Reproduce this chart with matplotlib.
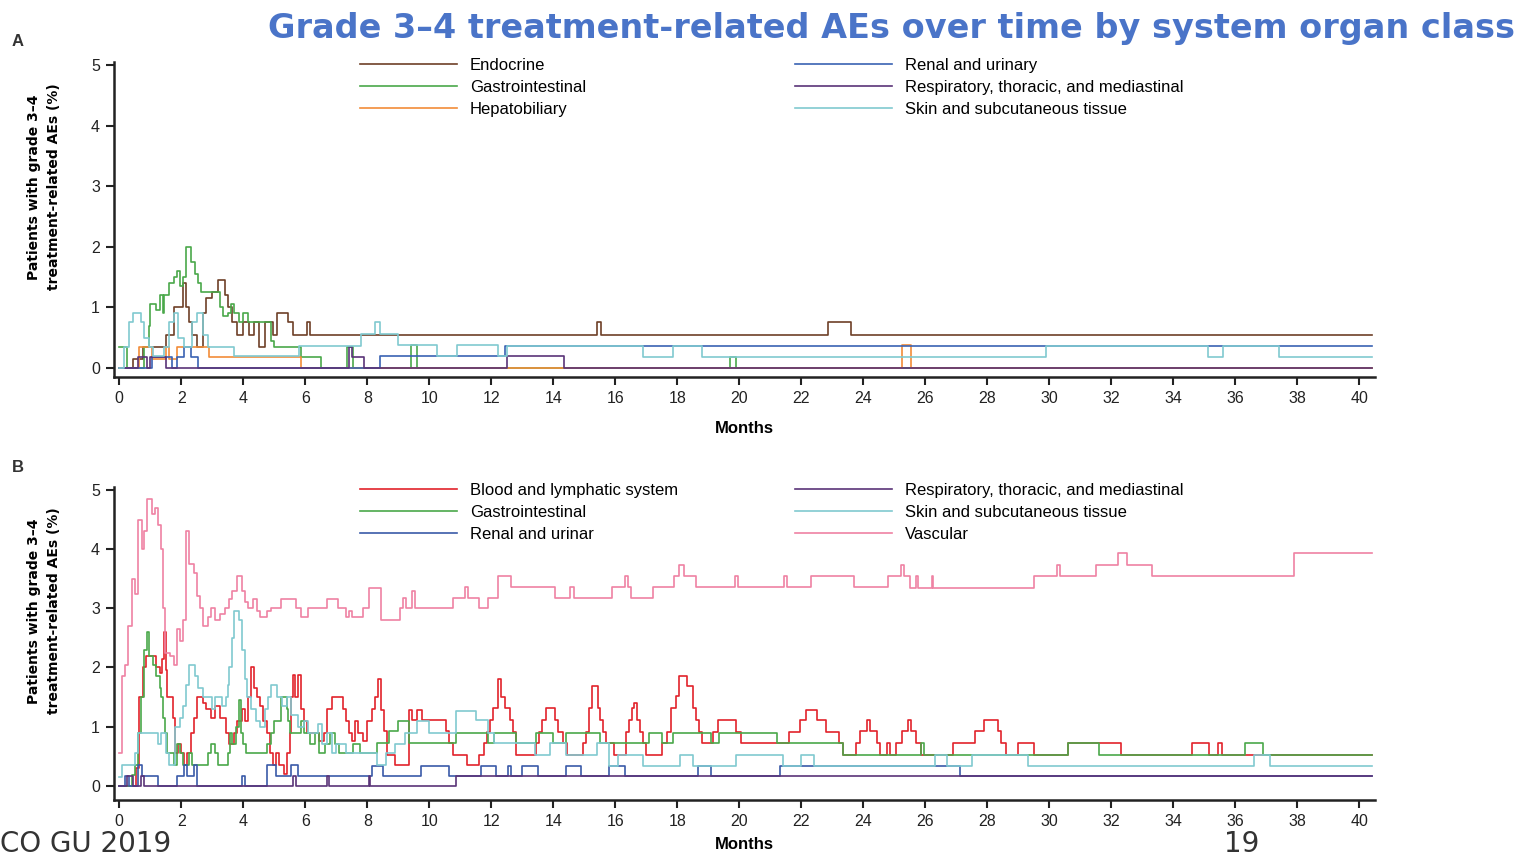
import matplotlib.pyplot as plt

plt.rcParams['font.family'] = ['Liberation Sans', 'DejaVu Sans']

# step data, (month, % of patients)
# panel A
endocrine = [(0, 0), (0.45, 0.15), (0.75, 0.35), (1.5, 0.55), (1.75, 1.0), (2.05, 1.4), (2.15, 1.0),
             (2.25, 0.75), (2.35, 0.55), (2.5, 0.35), (2.7, 0.9), (2.8, 1.15), (3.0, 1.25), (3.2, 1.45),
             (3.4, 1.2), (3.5, 1.0), (3.65, 0.75), (3.8, 0.55), (4.0, 0.75), (4.2, 0.55), (4.35, 0.75),
             (4.5, 0.35), (4.7, 0.75), (4.95, 0.55), (5.1, 0.9), (5.45, 0.75), (5.6, 0.55), (6.05, 0.75),
             (6.15, 0.55), (15.4, 0.75), (15.55, 0.55), (22.85, 0.75), (23.6, 0.55), (40.4, 0.55)]
gastro_a = [(0, 0.35), (0.25, 0), (0.8, 0.35), (0.95, 0.7), (1.0, 1.05), (1.2, 0.95), (1.3, 1.2), (1.4, 0.9),
            (1.45, 1.2), (1.6, 1.4), (1.75, 1.5), (1.85, 1.6), (1.95, 1.35), (2.05, 1.5), (2.15, 2.0),
            (2.3, 1.75), (2.45, 1.55), (2.55, 1.4), (2.65, 1.25), (3.25, 1.0), (3.35, 0.85), (3.5, 0.9),
            (3.6, 1.05), (3.7, 0.9), (3.85, 0.75), (4.0, 0.9), (4.15, 0.75), (4.9, 0.45), (5.0, 0.35),
            (5.85, 0.18), (6.5, 0), (7.35, 0.35), (7.55, 0), (9.4, 0.38), (9.6, 0), (19.7, 0.18),
            (19.9, 0), (40.4, 0)]
hepato = [(0, 0), (0.65, 0.35), (1.05, 0.15), (1.5, 0.35), (1.6, 0.15), (1.85, 0.35), (2.9, 0.18),
          (5.85, 0), (25.25, 0.38), (25.55, 0), (40.4, 0)]
renal_a = [(0, 0), (1.05, 0.18), (1.7, 0), (1.85, 0.18), (2.1, 0.35), (2.3, 0.18), (2.55, 0),
           (8.4, 0.19), (12.45, 0.37), (40.4, 0.37)]
resp_a = [(0, 0), (0.6, 0.18), (0.9, 0), (1.0, 0.18), (1.5, 0), (7.4, 0.35), (7.5, 0.18), (7.9, 0),
          (12.5, 0.19), (14.35, 0), (40.4, 0)]
skin_a = [(0, 0), (0.15, 0.35), (0.3, 0.75), (0.45, 0.9), (0.7, 0.75), (0.8, 0.5), (0.95, 0.35),
          (1.1, 0.2), (1.45, 0.35), (1.6, 0.75), (1.75, 0.9), (1.9, 0.5), (2.1, 0.35), (2.35, 0.75),
          (2.5, 0.9), (2.7, 0.55), (2.85, 0.35), (3.7, 0.2), (5.8, 0.36), (7.8, 0.56), (8.25, 0.75),
          (8.4, 0.56), (9.0, 0.38), (10.24, 0.19), (10.9, 0.38), (12.2, 0.19), (12.5, 0.37), (16.9, 0.18),
          (17.85, 0.37), (18.8, 0.18), (29.9, 0.37), (35.1, 0.18), (35.6, 0.37), (37.4, 0.18), (40.4, 0.18)]

# panel B
blood = [(0, 0), (0.55, 0.3), (0.65, 1.5), (0.75, 2.0), (0.85, 2.2), (1.2, 2.0), (1.3, 1.9), (1.38, 2.15),
         (1.43, 2.6), (1.5, 1.95), (1.55, 1.5), (1.72, 1.15), (1.8, 0.55), (1.9, 0.7), (2.0, 0.55),
         (2.1, 0.35), (2.2, 0.55), (2.3, 0.9), (2.4, 1.15), (2.5, 1.5), (2.7, 1.4), (2.8, 1.3), (2.95, 1.15),
         (3.1, 1.35), (3.25, 1.15), (3.45, 0.9), (3.55, 0.7), (3.7, 0.9), (3.8, 1.1), (3.95, 1.3),
         (4.05, 1.1), (4.15, 1.5), (4.25, 2.0), (4.35, 1.65), (4.45, 1.5), (4.55, 1.35), (4.65, 1.1),
         (4.75, 0.9), (4.85, 0.55), (4.95, 0.35), (5.05, 0.55), (5.15, 0.35), (5.3, 0.2), (5.4, 0.55),
         (5.5, 0.9), (5.55, 1.5), (5.6, 1.88), (5.68, 1.5), (5.75, 1.88), (5.85, 1.3), (5.95, 1.1),
         (6.05, 0.9), (6.45, 0.75), (6.6, 0.9), (6.7, 1.3), (6.85, 1.5), (7.2, 1.3), (7.3, 1.1), (7.4, 0.9),
         (7.5, 0.75), (7.6, 1.1), (7.7, 0.9), (7.85, 0.75), (8.0, 1.1), (8.15, 1.3), (8.25, 1.5),
         (8.35, 1.8), (8.45, 1.28), (8.55, 0.92), (8.65, 0.52), (8.9, 0.35), (9.35, 1.28), (9.45, 1.11),
         (9.6, 1.28), (9.75, 1.11), (10.55, 0.92), (10.65, 0.72), (10.75, 0.52), (11.2, 0.35), (11.6, 0.52),
         (11.75, 0.72), (11.85, 0.91), (11.95, 1.11), (12.05, 1.31), (12.2, 1.8), (12.3, 1.5), (12.45, 1.31),
         (12.6, 1.11), (12.7, 0.91), (12.8, 0.52), (13.45, 0.72), (13.55, 0.91), (13.65, 1.11),
         (13.75, 1.31), (14.05, 1.11), (14.15, 0.91), (14.3, 0.72), (14.45, 0.52), (14.95, 0.72),
         (15.05, 0.91), (15.15, 1.31), (15.25, 1.68), (15.45, 1.31), (15.5, 1.11), (15.6, 0.91),
         (15.7, 0.72), (15.95, 0.52), (16.35, 0.91), (16.45, 1.11), (16.55, 1.31), (16.6, 1.4),
         (16.7, 1.11), (16.8, 0.91), (16.9, 0.72), (17.0, 0.52), (17.5, 0.72), (17.65, 0.91), (17.8, 1.31),
         (17.95, 1.51), (18.05, 1.85), (18.3, 1.68), (18.5, 1.31), (18.6, 1.11), (18.7, 0.91), (18.8, 0.72),
         (19.15, 0.91), (19.3, 1.11), (19.9, 0.91), (20.05, 0.72), (21.6, 0.91), (21.95, 1.11),
         (22.15, 1.28), (22.5, 1.11), (22.8, 0.91), (23.2, 0.72), (23.35, 0.52), (23.75, 0.72),
         (23.9, 0.92), (24.1, 1.11), (24.2, 0.92), (24.45, 0.72), (24.55, 0.52), (24.75, 0.72),
         (24.85, 0.52), (25.05, 0.72), (25.25, 0.92), (25.45, 1.11), (25.55, 0.92), (25.7, 0.72),
         (25.85, 0.52), (26.9, 0.72), (27.6, 0.92), (27.9, 1.11), (28.35, 0.92), (28.45, 0.72),
         (28.6, 0.52), (29.0, 0.72), (29.5, 0.52), (30.6, 0.72), (32.3, 0.52), (34.6, 0.72), (35.15, 0.52),
         (35.45, 0.72), (35.55, 0.52), (40.4, 0.52)]
gastro_b = [(0, 0), (0.4, 0.18), (0.5, 0.35), (0.6, 0.9), (0.7, 1.5), (0.8, 2.3), (0.88, 2.6), (0.95, 2.2),
            (1.1, 2.05), (1.2, 1.85), (1.3, 1.65), (1.35, 1.5), (1.42, 1.15), (1.48, 0.9), (1.55, 0.55),
            (1.75, 0.35), (1.85, 0.7), (1.95, 0.55), (2.05, 0.35), (2.25, 0.55), (2.35, 0.35), (2.85, 0.55),
            (2.95, 0.7), (3.1, 0.55), (3.2, 0.35), (3.5, 0.55), (3.58, 0.9), (3.65, 0.7), (3.75, 1.0),
            (3.85, 1.45), (3.92, 0.9), (4.0, 0.7), (4.1, 0.55), (4.75, 0.7), (4.9, 0.9), (5.0, 1.1),
            (5.2, 1.5), (5.4, 1.3), (5.45, 1.1), (5.5, 0.9), (5.85, 1.1), (5.95, 0.9), (6.15, 0.7),
            (6.3, 0.9), (6.45, 0.55), (6.65, 0.7), (6.8, 0.9), (6.95, 0.7), (7.1, 0.55), (7.55, 0.7),
            (7.75, 0.55), (8.3, 0.72), (8.7, 0.92), (9.0, 1.1), (9.35, 0.72), (10.5, 0.72), (10.85, 0.9),
            (11.9, 0.72), (12.1, 0.9), (12.8, 0.72), (13.45, 0.9), (14.0, 0.72), (14.4, 0.9), (15.5, 0.72),
            (17.1, 0.9), (17.5, 0.72), (17.85, 0.9), (19.1, 0.72), (19.35, 0.9), (21.2, 0.72), (23.35, 0.52),
            (25.85, 0.72), (25.95, 0.52), (30.6, 0.72), (31.6, 0.52), (36.3, 0.72), (36.9, 0.52), (40.4, 0.52)]
renal_b = [(0, 0), (0.2, 0.16), (0.3, 0), (0.6, 0.35), (0.72, 0.16), (1.25, 0), (1.85, 0.16), (2.1, 0.35),
           (2.2, 0.16), (2.4, 0.35), (2.5, 0), (3.95, 0.16), (4.05, 0), (4.75, 0.35), (5.05, 0.16),
           (5.55, 0.35), (5.75, 0.16), (8.15, 0.33), (8.5, 0.16), (9.73, 0.33), (10.65, 0.16), (11.67, 0.33),
           (12.15, 0.16), (12.55, 0.33), (12.65, 0.16), (13.0, 0.33), (13.5, 0.16), (14.4, 0.33),
           (14.9, 0.16), (15.8, 0.33), (16.3, 0.16), (18.65, 0.33), (19.1, 0.16), (21.3, 0.33),
           (27.1, 0.16), (40.4, 0.16)]
resp_b = [(0, 0), (0.25, 0.16), (0.45, 0), (0.7, 0.16), (0.8, 0), (5.6, 0.16), (5.7, 0), (6.7, 0.16),
          (6.75, 0), (8.05, 0.16), (8.1, 0), (10.86, 0.16), (40.4, 0.16)]
skin_b = [(0, 0.15), (0.1, 0.35), (0.5, 0.55), (0.6, 0.9), (1.25, 0.7), (1.35, 0.9), (1.5, 0.55),
          (1.6, 0.35), (1.8, 1.0), (1.95, 1.15), (2.05, 1.35), (2.15, 1.7), (2.25, 2.05), (2.45, 1.85),
          (2.55, 1.65), (2.7, 1.5), (3.0, 1.3), (3.1, 1.5), (3.3, 1.35), (3.45, 1.5), (3.5, 1.7),
          (3.55, 2.0), (3.62, 2.5), (3.7, 2.95), (3.85, 2.8), (3.95, 2.3), (4.05, 1.8), (4.12, 1.5),
          (4.25, 1.3), (4.4, 1.1), (4.55, 1.0), (4.7, 1.3), (4.8, 1.5), (4.9, 1.7), (5.1, 1.5),
          (5.25, 1.35), (5.4, 1.5), (5.55, 1.2), (5.75, 1.0), (5.95, 1.1), (6.1, 0.9), (6.4, 1.05),
          (6.55, 0.7), (6.7, 0.9), (6.85, 0.55), (7.0, 0.7), (7.3, 0.55), (8.3, 0.35), (8.6, 0.55),
          (8.9, 0.7), (9.2, 0.9), (9.6, 1.1), (10.0, 0.9), (10.85, 1.27), (11.5, 1.11), (11.9, 0.9),
          (12.1, 0.72), (13.4, 0.52), (13.9, 0.72), (14.4, 0.52), (15.4, 0.72), (15.8, 0.33), (16.1, 0.52),
          (16.9, 0.33), (18.1, 0.52), (18.5, 0.33), (19.9, 0.52), (21.4, 0.33), (22.0, 0.52), (22.4, 0.33),
          (26.3, 0.52), (26.7, 0.33), (27.5, 0.52), (29.3, 0.33), (36.6, 0.52), (37.1, 0.33), (40.4, 0.33)]
vascular = [(0, 0.55), (0.08, 1.85), (0.2, 2.05), (0.28, 2.7), (0.4, 3.5), (0.5, 3.25), (0.6, 4.5),
            (0.72, 4.0), (0.8, 4.3), (0.9, 4.85), (1.05, 4.6), (1.15, 4.7), (1.25, 4.4), (1.35, 4.0),
            (1.42, 3.0), (1.48, 2.25), (1.65, 2.2), (1.75, 2.05), (1.85, 2.65), (1.95, 2.45), (2.05, 2.8),
            (2.15, 4.3), (2.25, 3.75), (2.4, 3.6), (2.5, 3.2), (2.6, 3.0), (2.7, 2.7), (2.85, 2.85),
            (2.95, 3.0), (3.1, 2.8), (3.25, 2.9), (3.4, 3.0), (3.55, 3.15), (3.65, 3.3), (3.8, 3.55),
            (3.95, 3.3), (4.05, 3.1), (4.15, 3.0), (4.3, 3.15), (4.45, 2.95), (4.55, 2.85), (4.75, 2.95),
            (4.9, 3.0), (5.2, 3.15), (5.7, 3.0), (5.85, 2.85), (6.1, 3.0), (6.7, 3.15), (7.05, 3.0),
            (7.3, 2.85), (7.4, 2.95), (7.5, 2.85), (7.85, 3.0), (8.05, 3.35), (8.45, 2.8), (9.05, 3.0),
            (9.15, 3.17), (9.25, 3.0), (9.45, 3.3), (9.55, 3.0), (10.75, 3.17), (11.15, 3.36), (11.25, 3.17),
            (11.6, 3.0), (11.9, 3.17), (12.2, 3.55), (12.65, 3.36), (14.05, 3.17), (14.55, 3.36),
            (14.65, 3.17), (15.9, 3.36), (16.3, 3.55), (16.4, 3.36), (16.5, 3.17), (17.2, 3.36), (17.9, 3.55),
            (18.05, 3.73), (18.2, 3.55), (18.6, 3.36), (19.85, 3.55), (19.95, 3.36), (21.45, 3.55),
            (21.55, 3.36), (22.3, 3.55), (23.7, 3.36), (24.8, 3.54), (25.2, 3.74), (25.3, 3.54), (25.5, 3.34),
            (25.7, 3.54), (25.75, 3.34), (26.2, 3.54), (26.25, 3.34), (29.5, 3.54), (30.25, 3.74),
            (30.35, 3.54), (31.5, 3.74), (32.2, 3.93), (32.5, 3.74), (33.3, 3.54), (37.9, 3.93), (40.4, 3.93)]

series_a = [('Endocrine', endocrine, '#6e4027'), ('Gastrointestinal', gastro_a, '#4aa84a'),
            ('Hepatobiliary', hepato, '#f28c38'), ('Renal and urinary', renal_a, '#3a62b3'),
            ('Respiratory, thoracic, and mediastinal', resp_a, '#5a3478'),
            ('Skin and subcutaneous tissue', skin_a, '#80c9d0')]
series_b = [('Blood and lymphatic system', blood, '#e2232b'), ('Gastrointestinal', gastro_b, '#4aa84a'),
            ('Renal and urinar', renal_b, '#3a5aa8'),
            ('Respiratory, thoracic, and mediastinal', resp_b, '#5a3478'),
            ('Skin and subcutaneous tissue', skin_b, '#80c9d0'), ('Vascular', vascular, '#ef82a3')]

W, H = 1535, 856
fig = plt.figure(figsize=(W / 100, H / 100), dpi=100)


def panel(rect, series, ymin, legend_top, xpad):
    ax = fig.add_axes(rect)
    handles = []
    for name, pts, col in series:
        t = [p[0] for p in pts]
        v = [p[1] for p in pts]
        h, = ax.step(t, v, where='post', color=col, lw=1.2, label=name)
        handles.append(h)
    ax.set_xlim(-0.17, 40.5)
    ax.set_ylim(ymin, 5.05)
    ax.set_xticks(range(0, 41, 2))
    ax.set_yticks(range(0, 6))
    for s in ['top', 'right']:
        ax.spines[s].set_visible(False)
    for s in ['left', 'bottom']:
        ax.spines[s].set_linewidth(1.8)
        ax.spines[s].set_color('#222222')
    ax.tick_params(direction='out', length=6, width=1.5, labelsize=11.5, colors='#222222', pad=4)
    ax.set_xlabel('Months', fontsize=12, fontweight='bold', labelpad=xpad)
    kw = dict(frameon=False, fontsize=12, handlelength=5.8, handletextpad=0.8, borderpad=0,
              borderaxespad=0, labelspacing=0.42, loc='upper left', bbox_transform=fig.transFigure)
    leg1 = ax.legend(handles=handles[:3], bbox_to_anchor=(360 / W, 1 - legend_top / H), **kw)
    ax.add_artist(leg1)
    ax.legend(handles=handles[3:], bbox_to_anchor=(795 / W, 1 - legend_top / H), **kw)
    return ax


ax_a = panel([114 / W, 1 - 377 / H, 1261 / W, 315 / H], series_a, -0.15, 58, 11)
ax_b = panel([114 / W, 1 - 800 / H, 1261 / W, 313 / H], series_b, -0.24, 483, 6)

ylab = 'Patients with grade 3–4\ntreatment-related AEs (%)'
for yc in (187, 611):
    fig.text(44 / W, 1 - yc / H, ylab, rotation=90, ha='center', va='center', fontsize=10,
             fontweight='bold', linespacing=1.55, multialignment='center', family='DejaVu Sans')
fig.text(12 / W, 1 - 42 / H, 'A', fontsize=12, fontweight='bold', color='#333333', va='center')
fig.text(12 / W, 1 - 467 / H, 'B', fontsize=12, fontweight='bold', color='#333333', va='center')

fig.text(1515 / W, 1 - 38 / H, 'Grade 3–4 treatment-related AEs over time by system organ class',
         ha='right', va='baseline', fontsize=24.1, fontweight='bold', color='#4a74c8',
         family='DejaVu Sans')
fig.text(0, 1 - 852 / H, 'CO GU 2019', ha='left', va='baseline', fontsize=20, color='#333333',
         family='DejaVu Sans')
fig.text(1224 / W, 1 - 852 / H, '19', ha='left', va='baseline', fontsize=20, color='#333333',
         family='DejaVu Sans')

fig.savefig('out.png', dpi=100)
